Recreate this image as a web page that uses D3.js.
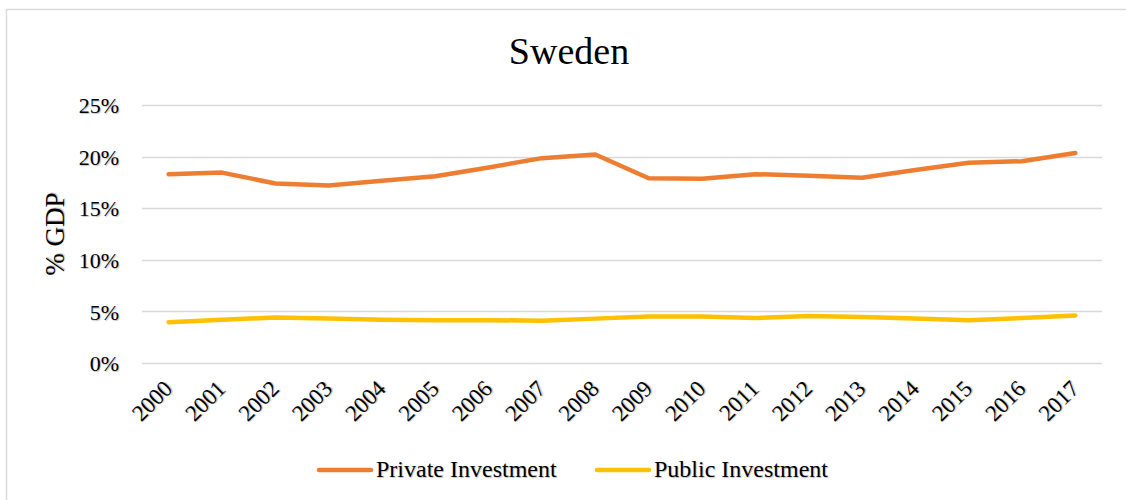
<!DOCTYPE html>
<html>
<head>
<meta charset="utf-8">
<script src="https://cdn.jsdelivr.net/npm/d3@7"></script>
<style>
  html, body { margin: 0; padding: 0; background: #fff; }
  svg { display: block; }
  text { font-family: "Liberation Serif", "Times New Roman", serif; fill: #000; }
</style>
</head>
<body>
<svg id="chart" width="1126" height="500"></svg>
<script>
// Investment as a share of GDP, Sweden 2000–2017
const years = ["2000","2001","2002","2003","2004","2005","2006","2007","2008",
               "2009","2010","2011","2012","2013","2014","2015","2016","2017"];
const privateInvestment = [18.3, 18.45, 17.4, 17.2, 17.65, 18.1, 18.95, 19.85, 20.2,
                           17.9, 17.85, 18.3, 18.15, 17.95, 18.7, 19.4, 19.55, 20.35];
const publicInvestment  = [3.95, 4.2, 4.4, 4.3, 4.2, 4.15, 4.15, 4.1, 4.3,
                           4.5, 4.5, 4.35, 4.55, 4.45, 4.3, 4.15, 4.35, 4.6];
const yTicks = [0, 5, 10, 15, 20, 25];
const seriesNames = ["Private Investment", "Public Investment"];
const seriesColors = ["#ED7D31", "#FFC000"];

const serif = '"Liberation Serif", "Times New Roman", serif';
const shadow = "1px 1px 1px rgba(0,0,0,0.25)";

const svg = d3.select("#chart");
const plot = { left: 142, right: 1102, top: 105, bottom: 363 };

// outer chart frame
svg.append("rect")
  .attr("x", 6.5).attr("y", 9.5)
  .attr("width", 1140).attr("height", 520)
  .attr("fill", "none").attr("stroke", "#d9d9d9").attr("stroke-width", 1.5);

const x = d3.scaleBand().domain(years).range([plot.left, plot.right]);
const y = d3.scaleLinear().domain([0, 25]).range([plot.bottom, plot.top]);

// horizontal gridlines
svg.append("g")
  .selectAll("line").data(yTicks).join("line")
  .attr("x1", plot.left).attr("x2", plot.right)
  .attr("y1", d => Math.round(y(d)) + 0.5).attr("y2", d => Math.round(y(d)) + 0.5)
  .attr("stroke", "#d9d9d9").attr("stroke-width", 1.5);

// y axis labels
const yAxis = d3.axisLeft(y).tickValues(yTicks).tickFormat(d => d + "%").tickSize(0).tickPadding(0);
const gy = svg.append("g").attr("transform", `translate(119,0)`).call(yAxis);
gy.select(".domain").remove();
gy.selectAll("text")
  .style("font-family", serif).style("font-size", "22px")
  .attr("dy", "0.35em").style("text-shadow", shadow);

// x axis labels, rotated
const xAxis = d3.axisBottom(x).tickSize(0).tickPadding(0);
const gx = svg.append("g").attr("transform", `translate(0,${plot.bottom})`).call(xAxis);
gx.select(".domain").remove();
gx.selectAll("text")
  .style("font-family", serif).style("font-size", "23px")
  .attr("text-anchor", "end")
  .attr("x", 0).attr("y", 0).attr("dy", 0)
  .attr("transform", "translate(5,27) rotate(-45)")
  .style("text-shadow", shadow);

// y axis title
svg.append("text")
  .attr("transform", `translate(64,${(plot.top + plot.bottom) / 2}) rotate(-90)`)
  .attr("text-anchor", "middle")
  .style("font-family", serif).style("font-size", "27px")
  .style("text-shadow", shadow)
  .text("% GDP");

// chart title
svg.append("text")
  .attr("x", 569).attr("y", 64)
  .attr("text-anchor", "middle")
  .style("font-family", serif).style("font-size", "38px")
  .text("Sweden");

// series lines
const line = d3.line()
  .x((d, i) => x(years[i]) + x.bandwidth() / 2)
  .y(d => y(d));

[privateInvestment, publicInvestment].forEach((vals, i) => {
  svg.append("path")
    .datum(vals)
    .attr("d", line)
    .attr("fill", "none")
    .attr("stroke", seriesColors[i])
    .attr("stroke-width", 4.5)
    .attr("stroke-linejoin", "round")
    .attr("stroke-linecap", "round");
});

// legend
const legendItems = [
  { name: seriesNames[0], color: seriesColors[0], x: 319 },
  { name: seriesNames[1], color: seriesColors[1], x: 597 }
];
const lg = svg.append("g");
legendItems.forEach(it => {
  lg.append("line")
    .attr("x1", it.x).attr("x2", it.x + 52)
    .attr("y1", 470).attr("y2", 470)
    .attr("stroke", it.color).attr("stroke-width", 4.5)
    .attr("stroke-linecap", "round");
  lg.append("text")
    .attr("x", it.x + 57).attr("y", 477)
    .style("font-family", serif).style("font-size", "24px")
    .style("text-shadow", shadow)
    .text(it.name);
});
</script>
</body>
</html>
